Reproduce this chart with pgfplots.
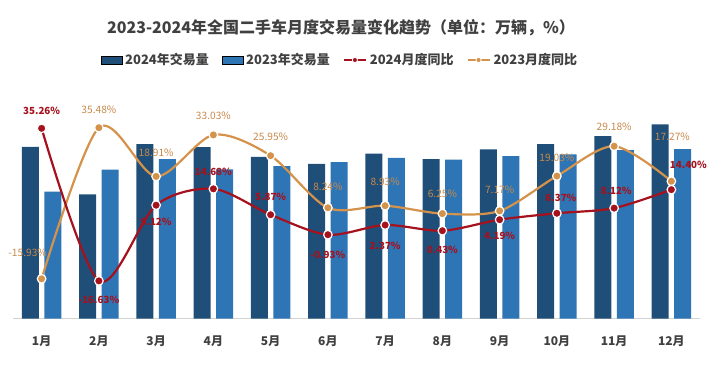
\documentclass[border=0pt]{standalone}
\usepackage{fontspec}
\setmainfont{Noto Sans CJK SC}
\usepackage{pgfplots}
\pgfplotsset{compat=1.18}
\usepackage{pgfplotstable}

\definecolor{bar24}{HTML}{1F4E79}
\definecolor{bar23}{HTML}{2E75B6}
\definecolor{line24}{HTML}{A5111D}
\definecolor{line23}{HTML}{D4924B}
\definecolor{lab23}{HTML}{C8894A}
\definecolor{txt}{HTML}{404040}

\pgfplotstableread{
x v24 v23
1 157.3 116.3
2 113.8 136.5
3 160.0 146.2
4 157.2 136.8
5 148.1 139.8
6 141.9 143.5
7 151.1 147.2
8 146.2 145.6
9 155.1 149.0
10 160.0 150.4
11 167.3 154.5
12 178.0 155.4
}\vol

\pgfplotstableread{
x y dx dy
1 35.26 0 17.6
2 -16.63 0 -18.7
3 9.12 0 -17
4 14.68 0 17
5 5.87 0 17.6
6 -0.93 0 -19.7
7 2.37 0 -20.7
8 0.43 0 -19
9 4.19 0 -16
10 6.37 4 15.6
11 8.12 2 17.7
12 14.40 17 24.6
}\yoyA

\pgfplotstableread{
x y dx dy
1 -15.93 -14 25.7
2 35.48 0 17.7
3 18.91 0 23.7
4 33.03 0 19
5 25.95 0 18.7
6 8.24 0 21
7 8.93 0 24
8 6.25 0 20
9 7.17 0 21
10 19.03 0 18
11 29.18 0 19
12 17.27 1 44
}\yoyB

\pgfplotsset{
  arealeg/.style={legend image code/.code={\fill[##1] (0pt,-4pt) rectangle (21pt,4pt);}},
  lineleg/.style={legend image code/.code={\draw[##1,mark size=2.6pt,line width=2pt,mark repeat=2,mark phase=2] plot coordinates {(0pt,0pt) (11pt,0pt) (22pt,0pt)};}},
}

\begin{document}
\begin{tikzpicture}
\path[use as bounding box] (0pt,0pt) rectangle (728pt,365pt);
\node[font=\fontsize{16}{19}\selectfont\bfseries, text=txt] at (341pt,337pt) {2023-2024年全国二手车月度交易量变化趋势（单位：万辆，\%）};

\begin{axis}[
  at={(13pt,46.3pt)}, anchor=south west,
  scale only axis, width=687pt, height=218.7pt,
  xmin=0.5, xmax=12.5, ymin=0, ymax=200.3,
  axis y line=none, axis x line*=bottom,
  x axis line style={-, draw=gray!35, line width=1pt},
  xtick={1,...,12},
  xticklabels={1月,2月,3月,4月,5月,6月,7月,8月,9月,10月,11月,12月},
  major tick length=0pt,
  xticklabel style={font=\fontsize{12}{14}\selectfont\bfseries, text=txt, yshift=-14pt},
]
\addplot[ybar, bar width=17pt, bar shift=-11.3pt, fill=bar24, draw=none] table[x=x,y=v24]{\vol};
\addplot[ybar, bar width=17pt, bar shift=11.3pt, fill=bar23, draw=none] table[x=x,y=v23]{\vol};
\end{axis}

\begin{axis}[
  at={(13pt,46.3pt)}, anchor=south west,
  scale only axis, width=687pt, height=218.7pt,
  xmin=0.5, xmax=12.5, ymin=-29.5, ymax=44.9,
  axis lines=none, clip=false,
  legend columns=4,
  legend style={at={(0.476,1.183)}, anchor=center, draw=none, fill=none,
    font=\fontsize{13}{15}\selectfont\bfseries, text=txt,
    /tikz/every even column/.append style={column sep=11pt},
    /tikz/every odd column/.append style={column sep=1pt}},
  /pgf/number format/assume math mode=true,
]
\addlegendimage{arealeg, fill=bar24}
\addlegendentry{2024年交易量}
\addlegendimage{arealeg, fill=bar23}
\addlegendentry{2023年交易量}
\addlegendimage{lineleg, line24, mark=*, mark options={fill=line24, draw=white, line width=0.8pt}}
\addlegendentry{2024月度同比}
\addlegendimage{lineleg, line23, mark=*, mark options={fill=line23, draw=white, line width=0.8pt}}
\addlegendentry{2023月度同比}

\addplot[forget plot, line23, line width=2.2pt, smooth, tension=0.5,
  mark=*, mark size=4.3pt, mark options={fill=line23, draw=white, line width=1.2pt},
  point meta=y,
  visualization depends on={\thisrow{dx} \as \mydx},
  visualization depends on={\thisrow{dy} \as \mydy},
  nodes near coords={\pgfmathprintnumber[fixed,fixed zerofill,precision=2]{\pgfplotspointmeta}\%},
  every node near coord/.append style={anchor=center, xshift=\mydx pt, yshift=\mydy pt,
    text=lab23, font=\fontsize{10.2}{12}\selectfont},
] table[x=x,y=y]{\yoyB};

\addplot[forget plot, line24, line width=2.2pt, smooth, tension=0.5,
  mark=*, mark size=4.3pt, mark options={fill=line24, draw=white, line width=1.2pt},
  point meta=y,
  visualization depends on={\thisrow{dx} \as \mydx},
  visualization depends on={\thisrow{dy} \as \mydy},
  nodes near coords={\pgfmathprintnumber[fixed,fixed zerofill,precision=2]{\pgfplotspointmeta}\%},
  every node near coord/.append style={anchor=center, xshift=\mydx pt, yshift=\mydy pt,
    text=line24, font=\fontsize{9.8}{12}\selectfont\bfseries},
] table[x=x,y=y]{\yoyA};
\end{axis}
\end{tikzpicture}
\end{document}
